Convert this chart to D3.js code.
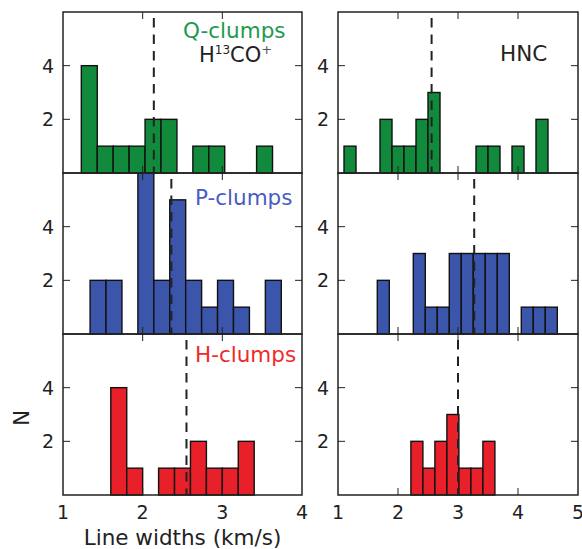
<!DOCTYPE html>
<html>
<head>
<meta charset="utf-8">
<script src="https://cdn.jsdelivr.net/npm/d3@7"></script>
<style>
html,body{margin:0;padding:0;background:#fff;}
text{font-family:"DejaVu Sans",sans-serif;}
</style>
</head>
<body>
<svg id="chart" width="582" height="549"></svg>
<script>
// ---------------- DATA ----------------
const binWidth = 0.2;
const rows = ["Q-clumps", "P-clumps", "H-clumps"];
const columns = ["H13CO+", "HNC"];
const rowColors = ["#118a3c", "#3a55aa", "#e8202a"];
const rowTextColors = ["#1e9a4e", "#4a5cc0", "#f02a2a"];

// H13CO+ (left column)
const qH13Start = 1.23, qH13Counts = [4,1,1,1,2,2,0,1,1,0,0,1];
const pH13Start = 1.34, pH13Counts = [2,2,0,6,2,5,2,1,2,1,0,2];
const hH13Start = 1.60, hH13Counts = [4,1,0,1,1,2,1,1,2];
const h13Medians = [2.14, 2.36, 2.55];

// HNC (right column)
const qHNCStart = 1.10, qHNCCounts = [1,0,0,2,1,1,2,3,0,0,0,1,1,0,1,0,2];
const pHNCStart = 1.655, pHNCCounts = [2,0,0,3,1,1,3,3,3,3,3,0,1,1,1];
const hHNCStart = 2.215, hHNCCounts = [2,1,2,3,1,1,2];
const hncMedians = [2.56, 3.27, 3.0];

const leftXTicks = [1,2,3,4];
const rightXTicks = [1,2,3,4,5];
const yTicks = [2,4];
const xLabel = "Line widths (km/s)";
const yLabel = "N";

// ---------------- LAYOUT ----------------
const svg = d3.select("#chart");
const colX = [[63, 302], [338, 578]];
const colDomain = [[1,4],[1,5]];
const rowTop = [12, 173, 334];
const panelH = 161;

const starts = [[qH13Start, qHNCStart],[pH13Start, pHNCStart],[hH13Start, hHNCStart]];
const counts = [[qH13Counts, qHNCCounts],[pH13Counts, pHNCCounts],[hH13Counts, hHNCCounts]];
const medians = [[h13Medians[0], hncMedians[0]],[h13Medians[1], hncMedians[1]],[h13Medians[2], hncMedians[2]]];
const xTicksCol = [leftXTicks, rightXTicks];

for (let r = 0; r < 3; r++) {
  for (let c = 0; c < 2; c++) {
    const x = d3.scaleLinear().domain(colDomain[c]).range(colX[c]);
    const y = d3.scaleLinear().domain([0,6]).range([rowTop[r] + panelH, rowTop[r]]);
    const g = svg.append("g");
    const bins = counts[r][c].map((n,i) => ({x0: starts[r][c] + i*binWidth, x1: starts[r][c] + (i+1)*binWidth, n}));
    g.selectAll("rect.bar").data(bins.filter(b => b.n > 0)).enter().append("rect")
      .attr("x", d => x(d.x0)).attr("width", d => x(d.x1) - x(d.x0))
      .attr("y", d => y(d.n)).attr("height", d => y(0) - y(d.n))
      .attr("fill", rowColors[r]).attr("stroke", "#111").attr("stroke-width", 1.4);

    // median dashed line
    g.append("line")
      .attr("x1", x(medians[r][c])).attr("x2", x(medians[r][c]))
      .attr("y1", y(0)).attr("y2", y(6))
      .attr("stroke", "#222").attr("stroke-width", 2)
      .attr("stroke-dasharray", "9.5,7").attr("stroke-dashoffset", 3);

    // ticks inward, all four sides
    const tl = 7;
    const xt = xTicksCol[c].filter(t => t > colDomain[c][0] && t < colDomain[c][1]);
    xt.forEach(t => {
      g.append("line").attr("x1", x(t)).attr("x2", x(t)).attr("y1", y(0)).attr("y2", y(0)-tl).attr("stroke","#222").attr("stroke-width",1);
      g.append("line").attr("x1", x(t)).attr("x2", x(t)).attr("y1", y(6)).attr("y2", y(6)+tl).attr("stroke","#222").attr("stroke-width",1);
    });
    yTicks.forEach(t => {
      g.append("line").attr("x1", colX[c][0]).attr("x2", colX[c][0]+tl).attr("y1", y(t)).attr("y2", y(t)).attr("stroke","#222").attr("stroke-width",1);
      g.append("line").attr("x1", colX[c][1]).attr("x2", colX[c][1]-tl).attr("y1", y(t)).attr("y2", y(t)).attr("stroke","#222").attr("stroke-width",1);
      g.append("text").attr("x", colX[c][0]-9).attr("y", y(t)).attr("dy","0.36em")
        .attr("text-anchor","end").attr("font-size",19).attr("fill","#222").text(t);
    });

    // frame
    g.append("rect").attr("x", colX[c][0]).attr("y", rowTop[r])
      .attr("width", colX[c][1]-colX[c][0]).attr("height", panelH)
      .attr("fill","none").attr("stroke","#222").attr("stroke-width",1.5);

    if (r === 2) {
      xTicksCol[c].forEach(t => {
        g.append("text").attr("x", x(t)).attr("y", 519).attr("text-anchor","middle")
          .attr("font-size",19).attr("fill","#222").text(t);
      });
    }
  }
}

// row labels
const rowLabelPos = [[183, 38], [195, 205], [195, 362]];
rows.forEach((name, r) => {
  svg.append("text").attr("x", rowLabelPos[r][0]).attr("y", rowLabelPos[r][1])
    .attr("font-size", 21.5).attr("fill", rowTextColors[r]).text(name);
});

// molecule labels
const t1 = svg.append("text").attr("x", 199).attr("y", 62).attr("font-size", 21).attr("fill", "#222");
t1.append("tspan").text("H");
t1.append("tspan").attr("font-size", 12).attr("dy", -8).text("13");
t1.append("tspan").attr("dy", 8).text("CO");
t1.append("tspan").attr("font-size", 13).attr("dy", -8).attr("fill","#555").text("+");

svg.append("text").attr("x", 500).attr("y", 61).attr("font-size", 21.5).attr("fill", "#222").text(columns[1]);

// axis labels
svg.append("text").attr("x", 182.5).attr("y", 545).attr("text-anchor","middle")
  .attr("font-size", 21.5).attr("fill", "#222").text(xLabel);
svg.append("text").attr("transform", "translate(29,418) rotate(-90)").attr("text-anchor","middle")
  .attr("font-size", 21).attr("fill", "#222").text(yLabel);
</script>
</body>
</html>
